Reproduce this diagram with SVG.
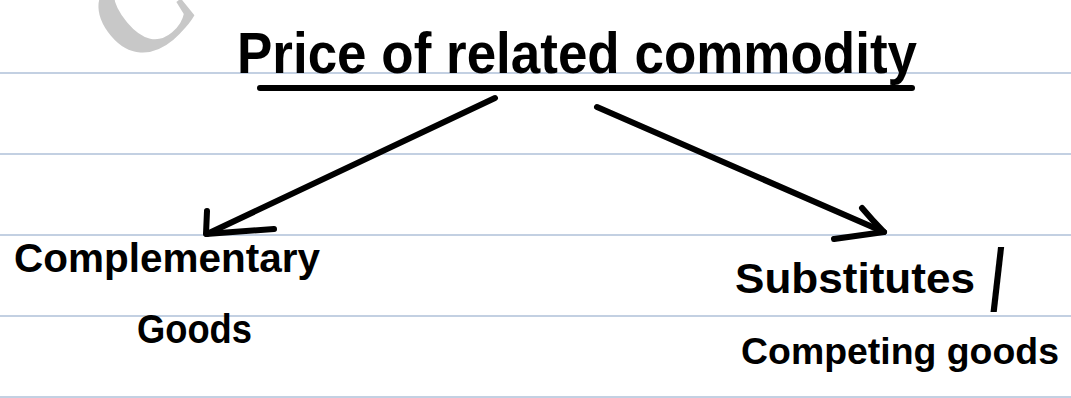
<svg xmlns="http://www.w3.org/2000/svg" width="1071" height="398" viewBox="0 0 1071 398">
<style>
.rule{stroke:#afc0d8;stroke-width:1.5}
.ink{fill:#000;font-family:"Liberation Sans",Arial,sans-serif;font-weight:bold}
.pen{fill:none;stroke:#000;stroke-width:6;stroke-linecap:round;stroke-linejoin:round}
</style>
<rect width="1071" height="398" fill="#fff"/>
<g id="paper">
<line class="rule" x1="0" y1="73" x2="1071" y2="73"/>
<line class="rule" x1="0" y1="154" x2="1071" y2="154"/>
<line class="rule" x1="0" y1="235" x2="1071" y2="235"/>
<line class="rule" x1="0" y1="316" x2="1071" y2="316"/>
<line class="rule" x1="0" y1="397" x2="1071" y2="397"/>
<text x="0" y="0" transform="translate(133,72) rotate(-40)" font-family="Liberation Serif,serif" font-weight="bold" font-size="130" fill="#c8c8c8">C</text>
</g>
<g id="title">
<text class="ink" x="237" y="73" font-size="58" textLength="680" lengthAdjust="spacingAndGlyphs">Price of related commodity</text>
<path class="pen" d="M260 88 L912 88"/>
</g>
<g id="complementary">
<text class="ink" x="14" y="272" font-size="40" textLength="306" lengthAdjust="spacingAndGlyphs">Complementary</text>
<text class="ink" x="137" y="343" font-size="40" textLength="115" lengthAdjust="spacingAndGlyphs">Goods</text>
</g>
<g id="substitutes">
<text class="ink" x="735" y="293" font-size="42" textLength="240" lengthAdjust="spacingAndGlyphs">Substitutes</text>
<text class="ink" x="0" y="0" transform="translate(990,310) scale(0.6,1)" font-size="88" font-weight="normal">/</text>
<text class="ink" x="741" y="364" font-size="37" textLength="318" lengthAdjust="spacingAndGlyphs">Competing goods</text>
</g>
<g id="connectors">
<path class="pen" d="M495 98 L207 234"/>
<path class="pen" d="M207 211 L206 234 L274 229"/>
<path class="pen" d="M597 107 L884 232"/>
<path class="pen" d="M862 208 Q872 220 884 232 L834 239"/>
</g>
</svg>
